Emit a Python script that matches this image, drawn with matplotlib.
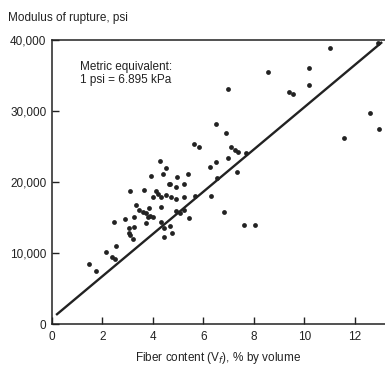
import numpy as np
import matplotlib
matplotlib.use('Agg')
import matplotlib.pyplot as plt

plt.rcParams['font.family'] = ['Liberation Sans', 'DejaVu Sans']

# fiber content (% by volume) vs modulus of rupture (psi)
fiber = [1.46, 1.74, 2.13, 2.53, 2.37, 2.51, 2.45, 2.89, 3.08, 3.64,
         4.14, 4.20, 4.64, 4.93, 5.22, 3.35, 3.45, 3.61, 3.74, 3.81,
         3.26, 3.24, 3.04, 3.06, 3.08, 3.23, 3.72, 3.87, 4.00, 4.34,
         3.99, 4.34, 4.51, 4.73, 4.93, 5.22, 3.85, 4.34, 4.43, 4.69,
         4.43, 4.77, 4.93, 5.06, 5.22, 5.43, 5.65, 6.31, 6.80, 7.60,
         8.06, 4.30, 4.53, 3.94, 4.41, 4.96, 5.39, 4.66, 5.63, 5.83,
         6.26, 6.51, 6.98, 6.51, 6.88, 7.09, 7.27, 7.36, 7.70, 7.35,
         6.55, 6.97, 8.57, 9.41, 9.57, 10.17, 10.17, 11.02, 12.92, 12.60,
         12.98, 11.59]
modulus = [8400, 7540, 10190, 11030, 9440, 9200, 14440, 14790, 18690, 18870,
           18780, 18350, 19720, 19300, 19720, 16760, 16060, 15820, 15590, 15110,
           15070, 13730, 13480, 12860, 12540, 11930, 14230, 15210, 15140, 17930,
           17890, 16520, 18170, 17930, 17560, 17850, 16340, 14410, 13480, 13870,
           12250, 12860, 15960, 15590, 16060, 14890, 18030, 18070, 15820, 13900,
           13900, 23000, 22040, 20920, 21170, 20750, 21130, 19790, 25350, 24900,
           22070, 22820, 23340, 28130, 26940, 24930, 24510, 24300, 24130, 21450,
           20560, 33140, 35490, 32750, 32400, 36060, 33620, 38870, 39620, 29680,
           27420, 26270]

# regression line
fit_intercept = 800
fit_slope = 2975
fit_range = [0.2, 13.05]

xticks = [0, 2, 4, 6, 8, 10, 12]
yticks = [0, 10000, 20000, 30000, 40000]

fig = plt.figure(figsize=(3.85, 3.65), dpi=100)
ax = fig.add_axes([0.135, 0.112, 0.865, 0.778])

ink = '#222222'
ax.scatter(fiber, modulus, s=12, c=ink, linewidths=0, zorder=3)
fx = np.array(fit_range)
ax.plot(fx, fit_intercept + fit_slope * fx, color=ink, lw=1.7, zorder=2)

ax.set_xlim(0, 13.2)
ax.set_ylim(0, 40000)
ax.set_xticks(xticks)
ax.set_yticks(yticks)
ax.set_yticklabels([f'{v:,}' for v in yticks])
ax.tick_params(direction='in', length=5, width=1, colors=ink, labelsize=8.5, pad=4)
ax.xaxis.set_tick_params(pad=5)
ax.spines['right'].set_visible(False)
for s in ['left', 'bottom', 'top']:
    ax.spines[s].set_linewidth(1.1)
    ax.spines[s].set_color(ink)

ax.text(1.1, 37100, 'Metric equivalent:\n1 psi = 6.895 kPa', fontsize=8.5, color=ink,
        va='top', ha='left', linespacing=1.1)

fig.text(0.02, 0.95, 'Modulus of rupture, psi', fontsize=8.5, color=ink, va='center')
ax.set_xlabel('Fiber content (V$_f$), % by volume', fontsize=8.5, color=ink, labelpad=5)

fig.savefig('out.png', dpi=100)
